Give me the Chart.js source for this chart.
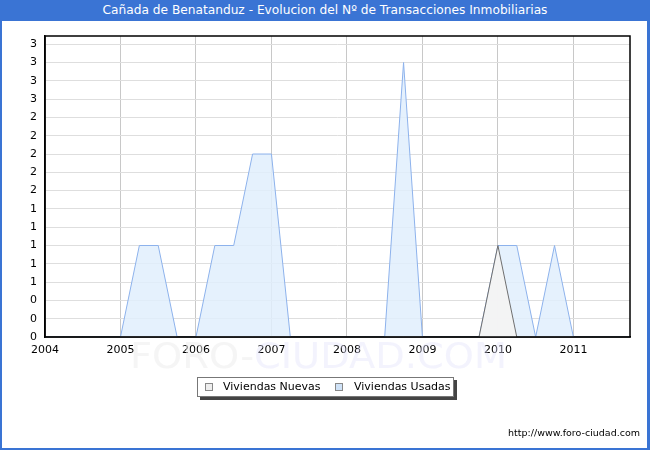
<!DOCTYPE html>
<html>
<head>
<meta charset="utf-8">
<script src="https://cdn.jsdelivr.net/npm/chart.js@4"></script>
<style>
  html, body { margin: 0; padding: 0; background: #fff; }
  #frame { position: relative; width: 650px; height: 450px; box-sizing: border-box;
           border-left: 2px solid #3a74d4; border-right: 3px solid #3a74d4; border-bottom: 2px solid #3a74d4; overflow: hidden; }
  #title { position: absolute; left: -2px; top: 0; width: 650px; height: 21px; background: #3a74d4; color: #fff;
           font: 12.2px "DejaVu Sans", sans-serif; text-align: center; line-height: 21px; }
  #wrap { position: absolute; left: -2px; top: 0; width: 650px; height: 450px; }
  #legend { position: absolute; left: 195px; top: 377px; width: 255px; height: 18px; border: 1px solid #777;
            background: #fff; box-shadow: 3px 3px 0 #444; font: 11px "DejaVu Sans", sans-serif; color: #000; }
  #legend .m { position: absolute; top: 5px; width: 8px; height: 8px; border: 1px solid #888; box-sizing: border-box; }
  #legend .t { position: absolute; top: 1px; line-height: 16px; white-space: nowrap; }
  #url { position: absolute; right: 7px; top: 427px; font: 9.5px "DejaVu Sans", sans-serif; color: #000; }
</style>
</head>
<body>
<div id="frame">
  <div id="wrap"><canvas id="c" width="650" height="450"></canvas></div>
  <div id="title">Cañada de Benatanduz - Evolucion del Nº de Transacciones Inmobiliarias</div>
  <div id="legend">
    <div class="m" style="left:7px;background:#eeeeee"></div><div class="t" style="left:25px" id="l0"></div>
    <div class="m" style="left:137px;background:#cfe2f7"></div><div class="t" style="left:156px" id="l1"></div>
  </div>
  <div id="url">http://www.foro-ciudad.com</div>
</div>
<script>
// ---- data ----
const seriesNames = ["Viviendas Nuevas", "Viviendas Usadas"];
const years = [2004, 2005, 2006, 2007, 2008, 2009, 2010, 2011];
const quarterOffsets = [0, 0.25, 0.5, 0.75];
// quarterly values, one row per year (Q1..Q4)
const nuevas = [
  0, 0, 0, 0,   // 2004
  0, 0, 0, 0,   // 2005
  0, 0, 0, 0,   // 2006
  0, 0, 0, 0,   // 2007
  0, 0, 0, 0,   // 2008
  0, 0, 0, 0,   // 2009
  1, 0, 0, 0,   // 2010
  0, 0, 0, 0    // 2011
];
const usadas = [
  0, 0, 0, 0,   // 2004
  0, 1, 1, 0,   // 2005
  0, 1, 1, 2,   // 2006
  2, 0, 0, 0,   // 2007
  0, 0, 0, 3,   // 2008
  0, 0, 0, 0,   // 2009
  1, 1, 0, 1,   // 2010
  0, 0, 0, 0    // 2011
];
const yTicks = [0, 0.2, 0.4, 0.6, 0.8, 1.0, 1.2, 1.4, 1.6, 1.8, 2.0, 2.2, 2.4, 2.6, 2.8, 3.0, 3.2];
const yTickLabels = ["0","0","0","1","1","1","1","1","2","2","2","2","2","3","3","3","3"];
const xTickLabels = ["2004","2005","2006","2007","2008","2009","2010","2011"];
const watermark = ["FORO-", "CIUDAD.COM"];

document.getElementById('l0').textContent = seriesNames[0];
document.getElementById('l1').textContent = seriesNames[1];

const xs = [];
years.forEach(y => quarterOffsets.forEach(q => xs.push(y + q)));
const toPts = arr => arr.map((v, i) => ({ x: xs[i], y: v }));

const FONT = '"DejaVu Sans", sans-serif';

const framePlugin = {
  id: 'frame',
  beforeDatasetsDraw(chart) {
    const ctx = chart.ctx;
    ctx.save();
    ctx.font = '35px ' + FONT;
    const w0 = ctx.measureText(watermark[0]).width;
    const w1 = ctx.measureText(watermark[1]).width;
    const target = 377;
    const sx = target / (w0 + w1);
    ctx.translate(130, 368);
    ctx.scale(sx, 1);
    ctx.textBaseline = 'alphabetic';
    ctx.fillStyle = 'rgba(235,235,235,0.5)';
    ctx.fillText(watermark[0], 0, 0);
    ctx.fillStyle = 'rgba(225,225,250,0.4)';
    ctx.fillText(watermark[1], w0, 0);
    ctx.restore();
  },
  afterDraw(chart) {
    const { ctx, chartArea: a } = chart;
    ctx.save();
    ctx.strokeStyle = '#000';
    ctx.lineWidth = 1.5;
    ctx.strokeRect(a.left, a.top, a.right - a.left, a.bottom - a.top);
    ctx.restore();
  }
};

new Chart(document.getElementById('c'), {
  type: 'line',
  data: {
    datasets: [
      { label: seriesNames[0], data: toPts(nuevas), borderColor: '#6f6f6f', backgroundColor: 'rgba(243,243,243,0.95)',
        borderWidth: 1, pointRadius: 0, fill: 'origin', tension: 0, order: 0 },
      { label: seriesNames[1], data: toPts(usadas), borderColor: '#8db2ec', backgroundColor: 'rgba(224,238,253,0.85)',
        borderWidth: 1, pointRadius: 0, fill: 'origin', tension: 0, order: 1 }
    ]
  },
  options: {
    responsive: false,
    animation: false,
    devicePixelRatio: 1,
    layout: { padding: { left: 0, right: 20, top: 36, bottom: 0 } },
    plugins: { legend: { display: false }, tooltip: { enabled: false }, title: { display: false } },
    scales: {
      x: {
        type: 'linear', min: 2004, max: 2011.75,
        afterBuildTicks: s => { s.ticks = years.map(v => ({ value: v })); },
        ticks: { callback: (v, i) => xTickLabels[i], color: '#000', font: { family: FONT, size: 11 }, maxRotation: 0, padding: 7 },
        grid: { color: '#c8c8c8', lineWidth: 1, drawTicks: false },
        border: { color: '#000', width: 1.5 },
        afterFit: s => { s.height = 113; }
      },
      y: {
        min: 0, max: 3.29,
        afterBuildTicks: s => { s.ticks = yTicks.map(v => ({ value: v })); },
        ticks: { callback: (v, i) => yTickLabels[i], color: '#000', font: { family: FONT, size: 11 }, padding: 8 },
        grid: { color: '#dedede', lineWidth: 1, drawTicks: false },
        border: { color: '#000', width: 1.5 },
        afterFit: s => { s.width = 45; }
      }
    }
  },
  plugins: [framePlugin]
});
</script>
</body>
</html>
